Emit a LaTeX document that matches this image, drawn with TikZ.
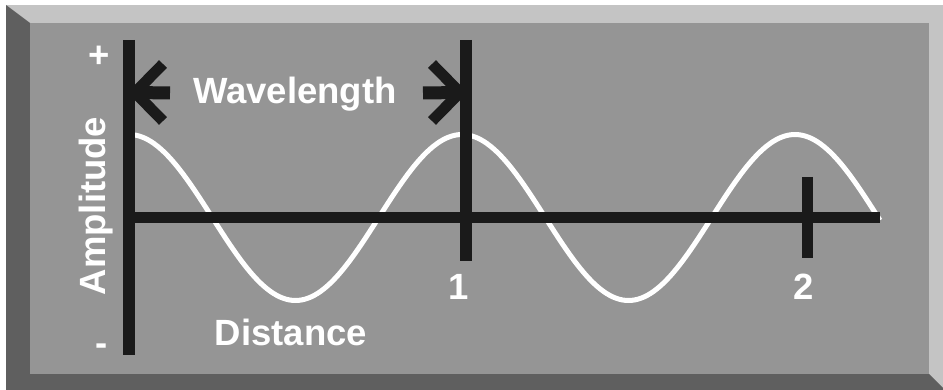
\documentclass[tikz,border=0pt]{standalone}
\usepackage{fontspec}
\setmainfont{Liberation Sans}
\definecolor{bevellight}{HTML}{C4C4C4}
\definecolor{beveldark}{HTML}{5F5F5F}
\definecolor{face}{HTML}{959595}
\definecolor{ink}{HTML}{1A1A1A}
\tikzset{
  axisline/.style={draw=ink, line width=11.5pt},
  arm/.style={draw=ink, line width=11pt, line join=miter},
  shaft/.style={draw=ink, line width=13pt},
  wave/.style={draw=white, line width=5pt},
  lbl/.style={text=white, font=\fontsize{36.5}{40}\selectfont\bfseries, inner sep=0pt, anchor=base},
}
\begin{document}
\begin{tikzpicture}[x=1pt, y=-1pt]
\useasboundingbox (0,0) rectangle (943,390);
\fill[white] (0,0) rectangle (943,390);
% frame
\fill[bevellight] (6,5) rectangle (943,390);
\fill[beveldark] (6,5) -- (30,23) -- (30,374) -- (929,374) -- (945,390) -- (6,390) -- cycle;
\fill[face] (30,23) rectangle (929,374);
% coordinates
\coordinate (vtop) at (129,40);
\coordinate (vbot) at (129,355);
\coordinate (hleft) at (129,217.5);
\coordinate (hright) at (880,217.5);
\coordinate (onetop) at (466,40);
\coordinate (onebot) at (466,261);
\coordinate (twotop) at (807.5,177);
\coordinate (twobot) at (807.5,258);
% wave
\draw[wave, domain=129:880, samples=240, smooth] plot (\x, {217.5 - 83*cos(1.081081*(\x-129))});
% axes
\draw[axisline] (hleft) -- (hright);
% arrows
\coordinate (ltip) at (135,92.5);
\coordinate (la1) at (163,64);
\coordinate (la2) at (163,121);
\coordinate (lend) at (170,93);
\draw[arm] (la1) -- (ltip) -- (la2);
\draw[shaft] (ltip) -- (lend);
\coordinate (rtip) at (460,92.5);
\coordinate (ra1) at (432,64);
\coordinate (ra2) at (432,121);
\coordinate (rend) at (423,93);
\draw[arm] (ra1) -- (rtip) -- (ra2);
\draw[shaft] (rend) -- (rtip);
\draw[axisline] (vtop) -- (vbot);
\draw[axisline] (onetop) -- (onebot);
\draw[axisline] (twotop) -- (twobot);
% labels
\node[lbl] (wl) at (295,104) {Wavelength};
\node[lbl] (dist) at (291,345) {Distance};
\node[lbl] (one) at (459,300) {1};
\node[lbl] (two) at (804,299) {2};
\node[lbl] (plus) at (99,67.5) {+};
\node[lbl] (minus) at (102,355) {-};
\node[lbl, rotate=90] (amp) at (105,206) {Amplitude};
\end{tikzpicture}
\end{document}
